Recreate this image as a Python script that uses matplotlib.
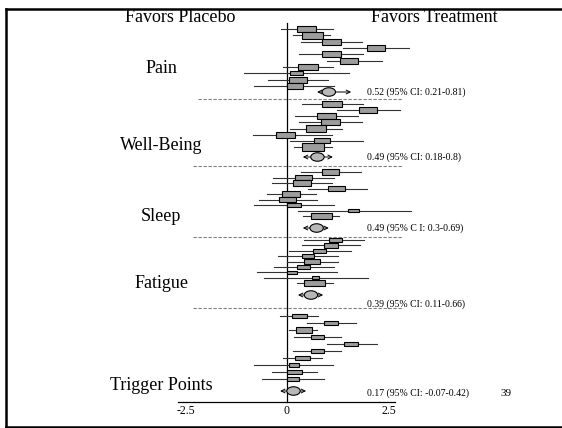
import matplotlib.pyplot as plt
from matplotlib.patches import Rectangle, Ellipse
from matplotlib.lines import Line2D

# Data (effect sizes)
groups = ['Pain', 'Well-Being', 'Sleep', 'Fatigue', 'Trigger Points']

pain_est = [0.48, 0.63, 1.10, 2.19, 1.10, 1.53, 0.52, 0.23, 0.27, 0.20]
pain_lo = [-0.15, 0.15, 0.34, 1.38, 0.30, 0.99, -0.10, -1.06, -0.47, -0.81]
pain_hi = [1.13, 1.06, 1.85, 3.00, 1.87, 2.34, 1.13, 1.53, 1.01, 1.16]
pain_wt = [0.47, 0.52, 0.47, 0.44, 0.47, 0.44, 0.49, 0.32, 0.44, 0.39]

wb_est = [1.11, 2.00, 0.97, 1.07, 0.71, -0.04, 0.86, 0.64]
wb_lo = [0.37, 1.23, 0.20, 0.30, 0.07, -0.84, 0.07, 0.17]
wb_hi = [1.87, 2.78, 1.75, 1.85, 1.35, 1.11, 1.87, 1.11]
wb_wt = [0.49, 0.44, 0.47, 0.47, 0.49, 0.47, 0.39, 0.54]

sleep_est = [1.07, 0.41, 0.37, 1.22, 0.10, 0.01, 0.17, 1.64, 0.85]
sleep_lo = [0.34, -0.34, -0.37, 0.52, -0.49, -0.69, -0.81, 0.27, 0.39]
sleep_hi = [1.82, 1.16, 1.11, 1.97, 0.71, 0.74, 1.16, 3.05, 1.28]
sleep_wt = [0.42, 0.42, 0.44, 0.42, 0.44, 0.42, 0.34, 0.27, 0.52]

fat_est = [1.19, 1.08, 0.80, 0.52, 0.62, 0.41, 0.12, 0.70, 0.68]
fat_lo = [0.42, 0.37, 0.05, -0.22, 0.00, -0.32, -0.74, -0.57, 0.25]
fat_hi = [1.90, 1.80, 1.58, 1.26, 1.26, 1.16, 1.23, 2.00, 1.13]
fat_wt = [0.32, 0.34, 0.32, 0.30, 0.39, 0.32, 0.25, 0.17, 0.52]

tp_est = [0.31, 1.08, 0.42, 0.75, 1.58, 0.75, 0.38, 0.17, 0.18, 0.15]
tp_lo = [-0.17, 0.49, 0.05, 0.17, 0.99, 0.15, -0.10, -0.81, -0.37, -0.62]
tp_hi = [0.76, 1.70, 0.74, 1.33, 2.22, 1.33, 0.86, 1.13, 0.74, 0.91]
tp_wt = [0.37, 0.34, 0.39, 0.32, 0.34, 0.32, 0.37, 0.25, 0.37, 0.30]

# pooled estimates as drawn (ellipse centre and arrow ends)
sum_est = [1.03, 0.75, 0.73, 0.59, 0.16]
sum_lo = [0.74, 0.39, 0.39, 0.27, -0.17]
sum_hi = [1.58, 1.13, 1.03, 0.89, 0.47]
sum_text = ['0.52 (95% CI: 0.21-0.81)', '0.49 (95% CI: 0.18-0.8)',
            '0.49 (95% C I: 0.3-0.69)', '0.39 (95% CI: 0.11-0.66)',
            '0.17 (95% CI: -0.07-0.42)']

ticks = [-2.5, 0, 2.5]

studies = [(pain_est, pain_lo, pain_hi, pain_wt),
           (wb_est, wb_lo, wb_hi, wb_wt),
           (sleep_est, sleep_lo, sleep_hi, sleep_wt),
           (fat_est, fat_lo, fat_hi, fat_wt),
           (tp_est, tp_lo, tp_hi, tp_wt)]

# layout (vertical positions in pixel rows, x scale in px per unit)
PX = 40.6
X0 = 287
row_top = [29, 104, 172, 240, 316]
row_bot = [86, 147, 216, 283, 379]
diam_y = [92, 157, 228, 295, 391]
text_y = [92, 157, 228, 304, 393]
label_y = [68, 146, 216, 284, 385]
sep_y = [99, 166, 237, 308]

fig = plt.figure(figsize=(5.62, 4.28), dpi=100)
ax = fig.add_axes([0, 0, 1, 1])
ax.set_xlim(-X0 / PX, (562 - X0) / PX)
ax.set_ylim(428, 0)
ax.axis('off')

serif = 'Liberation Serif'

for g in range(len(groups)):
    est, lo, hi, wt = studies[g]
    n = len(est)
    step = (row_bot[g] - row_top[g]) / (n - 1)
    for i in range(n):
        y = row_top[g] + i * step
        ax.plot([lo[i], hi[i]], [y, y], color='#333333', lw=0.8, zorder=2)
        h = max(3.5, 0.32 * wt[i] * PX)
        ax.add_patch(Rectangle((est[i] - wt[i] / 2, y - h / 2), wt[i], h,
                               facecolor='#9c9c9c', edgecolor='black',
                               lw=0.8, zorder=3))
    # pooled estimate
    yd = diam_y[g]
    ax.annotate('', xy=(sum_lo[g], yd), xytext=(sum_hi[g], yd),
                arrowprops=dict(arrowstyle='<->', lw=0.7, color='black',
                                mutation_scale=7, shrinkA=0, shrinkB=0))
    ax.add_patch(Ellipse((sum_est[g], yd), 0.33, 8.5, facecolor='#b8b8b8',
                         edgecolor='black', lw=0.8, zorder=4))
    ax.text(1.97, text_y[g], sum_text[g], fontsize=7, family=serif,
            va='center', ha='left')
    ax.text(-3.1, label_y[g], groups[g], fontsize=13, family=serif,
            va='center', ha='center')

for k, y in enumerate(sep_y):
    x1 = -2.19 if k == 0 else -2.32
    ax.plot([x1, 2.84], [y, y], color='#808080', lw=0.8,
            linestyle=(0, (3, 1.5)), zorder=1)

# zero line and axis
ax.plot([0, 0], [23, 402], color='black', lw=0.9, zorder=1)
ax.plot([-2.68, 2.66], [402, 402], color='black', lw=0.9)
for t in ticks:
    ax.text(t, 411, '%g' % t, fontsize=8.5, family=serif, ha='center',
            va='center')

ax.text(-2.62, 17, 'Favors Placebo', fontsize=13, family=serif,
        ha='center', va='center')
ax.text(3.62, 17, 'Favors Treatment', fontsize=13, family=serif,
        ha='center', va='center')
ax.text(5.4, 393, '39', fontsize=8, family=serif, ha='center', va='center')

# slide frame
fig.add_artist(Line2D([6 / 562, 1], [1 - 8.5 / 428, 1 - 8.5 / 428],
                      transform=fig.transFigure, color='black', lw=1.8))
fig.add_artist(Line2D([6 / 562, 6 / 562], [1 - 8.5 / 428, 1 - 427 / 428],
                      transform=fig.transFigure, color='black', lw=1.8))
fig.add_artist(Line2D([6 / 562, 1], [1 - 427 / 428, 1 - 427 / 428],
                      transform=fig.transFigure, color='black', lw=1.8))

fig.savefig('out.png', dpi=100)
